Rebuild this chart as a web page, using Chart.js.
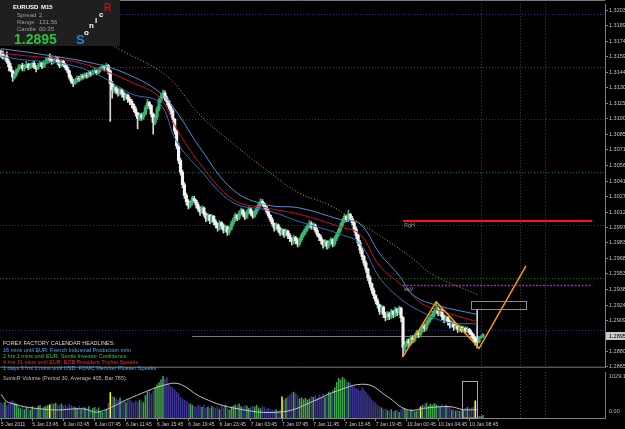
<!DOCTYPE html>
<html><head><meta charset="utf-8">
<script src="https://cdn.jsdelivr.net/npm/chart.js@4/dist/chart.umd.min.js"></script>
<style>
html,body{margin:0;padding:0;background:#000;overflow:hidden;}
#wrap{position:relative;width:625px;height:429px;background:#000;}
#c1{position:absolute;left:0;top:0;}
#c2{position:absolute;left:0;top:372px;}
</style></head><body>
<div id="wrap">
<canvas id="c1" width="625" height="372"></canvas>
<canvas id="c2" width="625" height="57"></canvas>
</div>
<script>
// ---------- DATA (EURUSD M15) ----------
const opens = [
1.3164,1.3162,1.3158,1.3160,1.3155,1.3150,1.3146,1.3140,1.3143,1.3147,
1.3149,1.3151,1.3148,1.3150,1.3152,1.3149,1.3151,1.3153,1.3150,1.3148,
1.3151,1.3153,1.3150,1.3154,1.3155,1.3158,1.3157,1.3155,1.3156,1.3158,
1.3154,1.3151,1.3155,1.3152,1.3149,1.3146,1.3140,1.3136,1.3134,1.3137,
1.3139,1.3138,1.3141,1.3140,1.3142,1.3141,1.3144,1.3143,1.3145,1.3146,
1.3144,1.3147,1.3148,1.3150,1.3149,1.3151,1.3146,1.3134,1.3128,1.3130,
1.3127,1.3125,1.3128,1.3124,1.3121,1.3123,1.3119,1.3117,1.3114,1.3110,
1.3106,1.3101,1.3104,1.3102,1.3105,1.3111,1.3116,1.3113,1.3105,1.3097,
1.3102,1.3110,1.3118,1.3122,1.3125,1.3120,1.3117,1.3112,1.3108,1.3100,
1.3089,1.3075,1.3061,1.3050,1.3038,1.3028,1.3022,1.3018,1.3021,1.3025,
1.3023,1.3019,1.3015,1.3012,1.3016,1.3010,1.3006,1.3009,1.3004,1.3008,
1.3003,1.3000,1.2997,1.3002,1.2999,1.2995,1.2998,1.2993,1.2996,1.3001,
1.3005,1.3009,1.3006,1.3011,1.3014,1.3010,1.3007,1.3012,1.3015,1.3011,
1.3008,1.3012,1.3016,1.3019,1.3022,1.3020,1.3017,1.3013,1.3009,1.3005,
1.3001,1.2997,1.3000,1.2996,1.2992,1.2995,1.2991,1.2994,1.2990,1.2987,
1.2984,1.2988,1.2985,1.2982,1.2986,1.2990,1.2993,1.2996,1.2999,1.3001,
1.2998,1.3000,1.2995,1.2991,1.2988,1.2985,1.2981,1.2984,1.2980,1.2983,
1.2986,1.2982,1.2987,1.2991,1.2995,1.3000,1.3004,1.3008,1.3005,1.3010,
1.3006,1.3002,1.2996,1.2990,1.2983,1.2976,1.2970,1.2964,1.2958,1.2950,
1.2944,1.2938,1.2933,1.2928,1.2924,1.2918,1.2922,1.2915,1.2912,1.2916,
1.2913,1.2918,1.2915,1.2920,1.2917,1.2921,1.2912,1.2884,1.2886,1.2890,
1.2888,1.2893,1.2891,1.2895,1.2898,1.2896,1.2900,1.2904,1.2902,1.2907,
1.2910,1.2913,1.2915,1.2918,1.2920,1.2916,1.2919,1.2913,1.2910,1.2912,
1.2908,1.2905,1.2907,1.2903,1.2904,1.2901,1.2903,1.2900,1.2902,1.2899,
1.2901,1.2898,1.2896,1.2892,1.2893,1.2889,1.2893,1.2894];
const highs = [
1.3166,1.3165,1.3161,1.3164,1.3157,1.3153,1.3147,1.3145,1.3148,1.3152,
1.3152,1.3153,1.3152,1.3155,1.3153,1.3153,1.3154,1.3155,1.3151,1.3153,
1.3155,1.3154,1.3156,1.3158,1.3159,1.3162,1.3159,1.3158,1.3160,1.3159,
1.3156,1.3157,1.3156,1.3153,1.3151,1.3147,1.3142,1.3138,1.3139,1.3141,
1.3141,1.3143,1.3143,1.3144,1.3144,1.3146,1.3146,1.3147,1.3149,1.3147,
1.3149,1.3150,1.3152,1.3151,1.3153,1.3152,1.3147,1.3136,1.3133,1.3131,
1.3129,1.3130,1.3129,1.3126,1.3125,1.3124,1.3121,1.3119,1.3115,1.3112,
1.3107,1.3106,1.3106,1.3107,1.3113,1.3119,1.3117,1.3114,1.3106,1.3104,
1.3112,1.3120,1.3125,1.3128,1.3127,1.3122,1.3118,1.3114,1.3110,1.3101,
1.3090,1.3077,1.3063,1.3052,1.3040,1.3030,1.3024,1.3023,1.3027,1.3027,
1.3024,1.3021,1.3017,1.3018,1.3017,1.3012,1.3011,1.3010,1.3010,1.3009,
1.3005,1.3002,1.3004,1.3003,1.3001,1.3000,1.2999,1.2998,1.3003,1.3007,
1.3011,1.3010,1.3013,1.3016,1.3015,1.3012,1.3014,1.3017,1.3016,1.3013,
1.3014,1.3018,1.3021,1.3025,1.3024,1.3021,1.3018,1.3015,1.3010,1.3007,
1.3002,1.3002,1.3001,1.2998,1.2997,1.2996,1.2996,1.2995,1.2992,1.2988,
1.2990,1.2989,1.2987,1.2988,1.2992,1.2995,1.2998,1.3001,1.3004,1.3003,
1.3002,1.3001,1.2997,1.2992,1.2990,1.2986,1.2986,1.2985,1.2985,1.2988,
1.2987,1.2989,1.2993,1.2997,1.3002,1.3006,1.3010,1.3009,1.3014,1.3011,
1.3008,1.3003,1.2998,1.2991,1.2985,1.2978,1.2971,1.2966,1.2959,1.2952,
1.2945,1.2940,1.2934,1.2930,1.2925,1.2924,1.2923,1.2917,1.2918,1.2917,
1.2920,1.2919,1.2922,1.2921,1.2923,1.2922,1.2913,1.2889,1.2892,1.2892,
1.2895,1.2895,1.2897,1.2900,1.2900,1.2902,1.2906,1.2906,1.2909,1.2912,
1.2915,1.2918,1.2921,1.2926,1.2922,1.2921,1.2920,1.2915,1.2914,1.2913,
1.2910,1.2909,1.2908,1.2906,1.2905,1.2905,1.2904,1.2904,1.2903,1.2903,
1.2902,1.2900,1.2897,1.2894,1.2919,1.2894,1.2895,1.2897];
const lows = [
1.3159,1.3157,1.3156,1.3153,1.3146,1.3145,1.3136,1.3138,1.3141,1.3145,
1.3148,1.3146,1.3146,1.3149,1.3147,1.3148,1.3149,1.3148,1.3145,1.3147,
1.3150,1.3148,1.3149,1.3152,1.3153,1.3154,1.3152,1.3153,1.3155,1.3152,
1.3149,1.3150,1.3150,1.3147,1.3144,1.3138,1.3134,1.3131,1.3133,1.3135,
1.3136,1.3137,1.3138,1.3139,1.3139,1.3140,1.3141,1.3142,1.3143,1.3142,
1.3143,1.3145,1.3147,1.3146,1.3147,1.3143,1.3098,1.3120,1.3125,1.3124,
1.3122,1.3123,1.3121,1.3118,1.3119,1.3116,1.3114,1.3111,1.3107,1.3103,
1.3091,1.3099,1.3099,1.3100,1.3104,1.3110,1.3110,1.3102,1.3086,1.3095,
1.3100,1.3108,1.3116,1.3120,1.3118,1.3114,1.3110,1.3105,1.3097,1.3086,
1.3072,1.3058,1.3047,1.3035,1.3025,1.3019,1.3015,1.3016,1.3019,1.3021,
1.3016,1.3013,1.3009,1.3011,1.3008,1.3003,1.3004,1.3001,1.3002,1.3000,
1.2997,1.2994,1.2995,1.2996,1.2992,1.2993,1.2990,1.2991,1.2995,1.2999,
1.3003,1.3004,1.3005,1.3009,1.3008,1.3005,1.3006,1.3010,1.3009,1.3006,
1.3007,1.3010,1.3014,1.3017,1.3018,1.3015,1.3011,1.3007,1.3003,1.2999,
1.2994,1.2995,1.2993,1.2990,1.2990,1.2988,1.2989,1.2987,1.2984,1.2981,
1.2982,1.2982,1.2979,1.2980,1.2984,1.2988,1.2991,1.2994,1.2997,1.2996,
1.2996,1.2993,1.2989,1.2985,1.2982,1.2978,1.2979,1.2977,1.2978,1.2981,
1.2979,1.2980,1.2985,1.2989,1.2993,1.2998,1.3002,1.3003,1.3003,1.3004,
1.3000,1.2993,1.2987,1.2980,1.2973,1.2967,1.2961,1.2955,1.2947,1.2941,
1.2935,1.2930,1.2925,1.2921,1.2915,1.2916,1.2912,1.2909,1.2910,1.2910,
1.2911,1.2912,1.2913,1.2914,1.2915,1.2908,1.2875,1.2880,1.2884,1.2885,
1.2886,1.2888,1.2889,1.2893,1.2893,1.2894,1.2898,1.2899,1.2900,1.2905,
1.2908,1.2911,1.2913,1.2916,1.2914,1.2914,1.2910,1.2907,1.2908,1.2905,
1.2902,1.2903,1.2900,1.2901,1.2898,1.2899,1.2898,1.2899,1.2897,1.2898,
1.2896,1.2893,1.2889,1.2886,1.2883,1.2888,1.2892,1.2893];
const closes = [
1.3162,1.3158,1.3160,1.3155,1.3150,1.3146,1.3140,1.3143,1.3147,1.3149,
1.3151,1.3148,1.3150,1.3152,1.3149,1.3151,1.3153,1.3150,1.3148,1.3151,
1.3153,1.3150,1.3154,1.3155,1.3158,1.3157,1.3155,1.3156,1.3158,1.3154,
1.3151,1.3155,1.3152,1.3149,1.3146,1.3140,1.3136,1.3134,1.3137,1.3139,
1.3138,1.3141,1.3140,1.3142,1.3141,1.3144,1.3143,1.3145,1.3146,1.3144,
1.3147,1.3148,1.3150,1.3149,1.3151,1.3146,1.3134,1.3128,1.3130,1.3127,
1.3125,1.3128,1.3124,1.3121,1.3123,1.3119,1.3117,1.3114,1.3110,1.3106,
1.3101,1.3104,1.3102,1.3105,1.3111,1.3116,1.3113,1.3105,1.3097,1.3102,
1.3110,1.3118,1.3122,1.3125,1.3120,1.3117,1.3112,1.3108,1.3100,1.3089,
1.3075,1.3061,1.3050,1.3038,1.3028,1.3022,1.3018,1.3021,1.3025,1.3023,
1.3019,1.3015,1.3012,1.3016,1.3010,1.3006,1.3009,1.3004,1.3008,1.3003,
1.3000,1.2997,1.3002,1.2999,1.2995,1.2998,1.2993,1.2996,1.3001,1.3005,
1.3009,1.3006,1.3011,1.3014,1.3010,1.3007,1.3012,1.3015,1.3011,1.3008,
1.3012,1.3016,1.3019,1.3022,1.3020,1.3017,1.3013,1.3009,1.3005,1.3001,
1.2997,1.3000,1.2996,1.2992,1.2995,1.2991,1.2994,1.2990,1.2987,1.2984,
1.2988,1.2985,1.2982,1.2986,1.2990,1.2993,1.2996,1.2999,1.3001,1.2998,
1.3000,1.2995,1.2991,1.2988,1.2985,1.2981,1.2984,1.2980,1.2983,1.2986,
1.2982,1.2987,1.2991,1.2995,1.3000,1.3004,1.3008,1.3005,1.3010,1.3006,
1.3002,1.2996,1.2990,1.2983,1.2976,1.2970,1.2964,1.2958,1.2950,1.2944,
1.2938,1.2933,1.2928,1.2924,1.2918,1.2922,1.2915,1.2912,1.2916,1.2913,
1.2918,1.2915,1.2920,1.2917,1.2921,1.2912,1.2884,1.2886,1.2890,1.2888,
1.2893,1.2891,1.2895,1.2898,1.2896,1.2900,1.2904,1.2902,1.2907,1.2910,
1.2913,1.2915,1.2918,1.2920,1.2916,1.2919,1.2913,1.2910,1.2912,1.2908,
1.2905,1.2907,1.2903,1.2904,1.2901,1.2903,1.2900,1.2902,1.2899,1.2901,
1.2898,1.2896,1.2892,1.2889,1.2889,1.2893,1.2894,1.2896];
const volumes = [
360,340,380,300,320, 380,400,350,330,
250,220,280,200,260,230,190,270,240,210,280,300,230,260,
280,300,310,
340,320,350,300,310,330,280,300,260,320,290,270,
250,230,280,200,260,240,220,270,190,230,250,210,240,
150,140,170,200,
350,590,500,480,
450,420,470,380,400,360,430,410,380,350,400,370,420,390,360,
520,600,650,560,
620,700,760,820,880,960,900,940,
780,720,700,650,600,560,
480,440,420,390,350,330,300,280,260,300,
280,250,300,240,260,230,270,250,220,
260,200,280,240,300,220,190,260,280,310,290,330,270,250,300,280,230,260,
280,260,300,240,220,270,250,210,230,200,
190,180,200,170,190,
490,
420,460,500,540,580,600,560,520,
450,470,430,460,420,440,
500,480,520,460,540,500,560,480,520,600,560,640,
700,820,920,880,940,900,860,820,
800,760,720,680,650,620,
700,650,600,540,480,420,380,350,
300,260,240,200,220,180,160,200,150,170,190,140,
200,260,220,180,160,200,180,150,170,190,
265,
300,330,350,280,320,300,340,310,290,260,320,280,300,270,250,
190,200,170,180,160,190,200,
230,250,220,240,260,400,380,
40,50,70];
const climaxBars = [25,56,144,215,243];
const volAvgBars   = [0,4,25,42,50,67,85,92,102,119,144,162,170,187,198,208,218,230,237,244];
const volAvgValues = [540,350,190,210,140,470,770,770,490,230,140,420,585,770,490,190,230,260,190,190];
const volMaxLabel = '1029.1', volMinLabel = '0.00';

// Dragon (EMA34 high / close / low) and Trend (EMA89)
const dragonHighBars = [0,16,50,67,81,90,102,119,136,153,174,184,194,204,211,221,244];
const dragonHighVals = [1.3167,1.3163,1.3152,1.3141,1.3126,1.3107,1.3073,1.3033,1.3019,1.3016,1.3005,1.3001,1.2973,1.2952,1.2934,1.2925,1.2915];
const dragonMidBars  = [0,9,34,50,67,81,90,102,119,136,153,174,184,194,206,216,228,244];
const dragonMidVals  = [1.3163,1.3161,1.3156,1.3148,1.3135,1.3121,1.3091,1.3058,1.3024,1.3016,1.3010,1.2998,1.2991,1.2961,1.2942,1.2925,1.2917,1.2908];
const dragonLowBars  = [0,9,34,50,67,81,90,102,119,136,153,174,184,194,204,214,228,244];
const dragonLowVals  = [1.3160,1.3157,1.3152,1.3142,1.3124,1.3116,1.3079,1.3052,1.3021,1.3014,1.3003,1.2991,1.2982,1.2950,1.2931,1.2919,1.2908,1.2906];
const trendBars = [55,62,85,102,119,136,153,168,184,194,211,221,244];
const trendVals = [1.3172,1.3165,1.3141,1.3104,1.3077,1.3052,1.3030,1.3019,1.3001,1.2990,1.2968,1.2953,1.2934];

const zigzagBars = [206,223,245,269];
const zigzagPrices = [1.2875,1.2927,1.2883,1.2961];
const projBoxBars = [241,269], projBoxPrices = [1.2920,1.2928];
const volBoxBars = [236,244], volBoxTop = 842;
const majorLevels = [1.3200,1.3100,1.3000,1.2900];
const halfLevels = [1.3150,1.3050,1.2950];
const rghLevel = 1.3004, ssvLevel = 1.2943, levelBars = [206,303];
const bidPrice = 1.2895, bidLineFromBar = 98, bidLineToBar = 245;
const eventBars = [246,266,279];
const priceTicks = [1.32035,1.31890,1.31740,1.31595,1.31445,1.31300,1.31150,1.31005,1.30855,1.30710,1.30565,1.30415,1.30270,1.30120,1.29975,1.29830,1.29680,1.29535,1.29385,1.29240,1.29095,1.28950,1.28800,1.28655];
const timeLabels = ["5 Jan 2011","5 Jan 23:45","6 Jan 03:45","6 Jan 07:45","6 Jan 11:45","6 Jan 15:45","6 Jan 19:45","6 Jan 23:45","7 Jan 03:45","7 Jan 07:45","7 Jan 11:45","7 Jan 15:45","7 Jan 19:45","10 Jan 00:45","10 Jan 04:45","10 Jan 08:45"];
const newsLines = ["16 mins until EUR: French Industrial Production m/m","2 hrs 1 mins until EUR: Sentix Investor Confidence","4 hrs 31 mins until EUR: ECB President Trichet Speaks","1 days 6 hrs 1 mins until USD: FOMC Member Plosser Speaks"];
const SLOTS = 310;
const categories = Array.from({length: SLOTS}, (_, i) => i);

// ---------- STYLE ----------
const FONT = 'Liberation Sans';
const BULL = '#3cb371', BEAR = '#f4f4f4';
const isUp = i => closes[i] > opens[i];
const pts = (bars, vals) => bars.map((b, k) => ({x: b, y: vals[k]}));

const mainDecor = {
  id: 'mainDecor',
  beforeDatasetsDraw(chart) {
    const {ctx, chartArea: a, scales: {x, y}} = chart;
    ctx.save();
    ctx.lineWidth = 1;
    ctx.setLineDash([1, 2]);
    const hl = (p, col) => { const py = Math.round(y.getPixelForValue(p)) + 0.5; ctx.strokeStyle = col; ctx.beginPath(); ctx.moveTo(a.left, py); ctx.lineTo(a.right, py); ctx.stroke(); };
    majorLevels.forEach(p => hl(p, '#2a2a9a'));
    halfLevels.forEach(p => hl(p, '#0b700b'));
    ctx.strokeStyle = '#4a4a4a';
    eventBars.forEach(b => { const px = Math.round(x.getPixelForValue(b)) + 0.5; ctx.beginPath(); ctx.moveTo(px, a.top); ctx.lineTo(px, a.bottom); ctx.stroke(); });
    ctx.setLineDash([]);
    ctx.strokeStyle = '#7a7a7a';
    const by = Math.round(y.getPixelForValue(bidPrice)) + 0.5;
    ctx.beginPath(); ctx.moveTo(x.getPixelForValue(bidLineFromBar), by); ctx.lineTo(x.getPixelForValue(bidLineToBar), by); ctx.stroke();
    ctx.restore();
  },
  afterDatasetsDraw(chart) {
    const {ctx, scales: {x, y}} = chart;
    ctx.save();
    const x0 = x.getPixelForValue(levelBars[0]), x1 = x.getPixelForValue(levelBars[1]);
    let py = Math.round(y.getPixelForValue(rghLevel));
    ctx.strokeStyle = '#ff1010'; ctx.lineWidth = 2;
    ctx.beginPath(); ctx.moveTo(x0, py); ctx.lineTo(x1, py); ctx.stroke();
    ctx.font = '5.5px "' + FONT + '"'; ctx.fillStyle = '#9a9a9a'; ctx.textBaseline = 'middle';
    ctx.fillText('RgH', x0 + 1, py + 4.5);
    py = Math.round(y.getPixelForValue(ssvLevel)) + 0.5;
    ctx.strokeStyle = '#b020c0'; ctx.lineWidth = 1.5; ctx.setLineDash([2, 1.5]);
    ctx.beginPath(); ctx.moveTo(x0, py); ctx.lineTo(x1, py); ctx.stroke();
    ctx.setLineDash([]);
    ctx.fillText('ssV', x0 + 1, py + 4);
    const bx0 = Math.round(x.getPixelForValue(projBoxBars[0])) + 0.5, bx1 = Math.round(x.getPixelForValue(projBoxBars[1])) + 0.5;
    const by0 = Math.round(y.getPixelForValue(projBoxPrices[1])) + 0.5, by1 = Math.round(y.getPixelForValue(projBoxPrices[0])) + 0.5;
    ctx.strokeStyle = '#8c8c8c'; ctx.lineWidth = 1; ctx.strokeRect(bx0, by0, bx1 - bx0, by1 - by0);
    ctx.restore();
  },
  afterDraw(chart) {
    const {ctx, chartArea: a, scales: {y}} = chart;
    ctx.save();
    ctx.strokeStyle = '#7a7a7a'; ctx.lineWidth = 1;
    ctx.beginPath(); ctx.moveTo(0, 0.5); ctx.lineTo(a.right, 0.5); ctx.moveTo(0, a.bottom - 0.5); ctx.lineTo(a.right, a.bottom - 0.5); ctx.stroke();
    // info panel
    ctx.fillStyle = '#1f1f1f'; ctx.fillRect(0, 0, 120, 46);
    ctx.textBaseline = 'alphabetic';
    ctx.fillStyle = '#ffffff'; ctx.font = 'bold 6px "' + FONT + '"';
    ctx.fillText('EURUSD', 13, 9); ctx.fillText('M15', 41, 9);
    ctx.fillStyle = '#9c9c9c'; ctx.font = '6px "' + FONT + '"';
    ctx.fillText('Spread', 17, 17); ctx.fillText('2', 39, 17);
    ctx.fillText('Range', 17, 24); ctx.fillText('131.56', 39, 24);
    ctx.fillText('Candle', 17, 31); ctx.fillText('00:35', 39, 31);
    ctx.fillStyle = '#2fbf3a'; ctx.font = 'bold 14px "' + FONT + '"';
    ctx.fillText('1.2895', 14, 44);
    ctx.fillStyle = '#1c86e6'; ctx.font = 'bold 13px "' + FONT + '"';
    ctx.fillText('S', 76, 44);
    ctx.fillStyle = '#ffffff'; ctx.font = 'bold 8px "' + FONT + '"';
    ctx.fillText('o', 84, 35); ctx.fillText('n', 89, 28); ctx.fillText('i', 95, 23); ctx.fillText('c', 99, 17);
    ctx.fillStyle = '#e00000'; ctx.font = 'bold 10px "' + FONT + '"';
    ctx.fillText('R', 104, 11);
    // news
    ctx.font = '5.5px "' + FONT + '"';
    ctx.fillStyle = '#d8d8d8'; ctx.fillText('FOREX FACTORY CALENDAR HEADLINES:', 3, 345);
    const cols = ['#4da3ff', '#33cc33', '#ff2b2b', '#4da3ff'];
    newsLines.forEach((t, k) => { ctx.fillStyle = cols[k]; ctx.fillText(t, 3, 352 + k * 6); });
    // current price box
    const py = Math.round(y.getPixelForValue(bidPrice));
    ctx.fillStyle = '#c8c8c8'; ctx.fillRect(606, py - 4, 19, 8);
    ctx.fillStyle = '#000'; ctx.textBaseline = 'middle'; ctx.font = '5.5px "' + FONT + '"';
    ctx.fillText(bidPrice.toFixed(5), 609, py + 0.5);
    ctx.restore();
  }
};

new Chart(document.getElementById('c1'), {
  data: {
    labels: categories,
    datasets: [
      {type: 'line', data: pts(zigzagBars, zigzagPrices), borderColor: '#ff9a00', borderWidth: 1.5, pointRadius: 0, tension: 0, order: 0},
      {type: 'line', data: pts(trendBars, trendVals), borderColor: '#b8b800', borderWidth: 1, borderDash: [1, 2], pointRadius: 0, tension: 0.4, order: 1},
      {type: 'line', data: pts(dragonHighBars, dragonHighVals), borderColor: '#4f8fd6', borderWidth: 1, pointRadius: 0, tension: 0.4, order: 1},
      {type: 'line', data: pts(dragonMidBars, dragonMidVals), borderColor: '#c8102e', borderWidth: 1, pointRadius: 0, tension: 0.4, order: 1},
      {type: 'line', data: pts(dragonLowBars, dragonLowVals), borderColor: '#2f6fae', borderWidth: 1, pointRadius: 0, tension: 0.4, order: 1},
      {type: 'bar', data: closes.map((c, i) => [opens[i], c]), backgroundColor: ctx => isUp(ctx.dataIndex) ? BULL : BEAR, barThickness: 2.5, minBarLength: 1, grouped: false, order: 5},
      {type: 'bar', data: closes.map((c, i) => [lows[i], highs[i]]), backgroundColor: ctx => isUp(ctx.dataIndex) ? BULL : '#d6d6d6', barThickness: 1, grouped: false, order: 6}
    ]
  },
  options: {
    responsive: false, animation: false, devicePixelRatio: 1,
    layout: {padding: 0},
    plugins: {legend: {display: false}, tooltip: {enabled: false}},
    scales: {
      x: {type: 'category', display: false, offset: true},
      y: {position: 'right', min: 1.286458, max: 1.320906,
        afterFit: s => { s.width = 20; },
        afterBuildTicks: s => { s.ticks = priceTicks.map(v => ({value: v})); },
        ticks: {autoSkip: false, padding: 1, color: '#c4c4c4', font: {family: FONT, size: 5.5}, callback: v => v.toFixed(5)},
        grid: {drawOnChartArea: false, tickLength: 3, color: '#808080'},
        border: {display: true, color: '#808080'}}
    }
  },
  plugins: [mainDecor]
});

const volDecor = {
  id: 'volDecor',
  beforeDatasetsDraw(chart) {
    const {ctx, chartArea: a, scales: {x}} = chart;
    ctx.save(); ctx.strokeStyle = '#4a4a4a'; ctx.setLineDash([1, 2]);
    eventBars.forEach(b => { const px = Math.round(x.getPixelForValue(b)) + 0.5; ctx.beginPath(); ctx.moveTo(px, a.top); ctx.lineTo(px, a.bottom); ctx.stroke(); });
    ctx.restore();
  },
  afterDraw(chart) {
    const {ctx, chartArea: a, scales: {x, y}} = chart;
    ctx.save();
    ctx.font = '5.5px "' + FONT + '"'; ctx.textBaseline = 'middle';
    ctx.fillStyle = '#bdbdbd'; ctx.fillText('SonicR Volume (Period 30, Average 405, Bar 785)', 3, 6);
    ctx.fillText(volMaxLabel, 609, 4); ctx.fillText(volMinLabel, 609, 39);
    const bx0 = Math.round(x.getPixelForValue(volBoxBars[0])) + 0.5, bx1 = Math.round(x.getPixelForValue(volBoxBars[1])) + 0.5;
    const byt = Math.round(y.getPixelForValue(volBoxTop)) + 0.5;
    ctx.strokeStyle = '#a8a8a8'; ctx.strokeRect(bx0, byt, bx1 - bx0, a.bottom - byt);
    ctx.restore();
  }
};

new Chart(document.getElementById('c2'), {
  data: {
    labels: categories,
    datasets: [
      {type: 'line', data: pts(volAvgBars, volAvgValues), borderColor: '#c2c2c2', borderWidth: 1, pointRadius: 0, tension: 0.4, order: 0},
      {type: 'bar', data: volumes, backgroundColor: ctx => climaxBars.includes(ctx.dataIndex) ? '#ffff00' : (isUp(ctx.dataIndex) ? '#3fa34a' : '#3b348f'), barPercentage: 0.8, categoryPercentage: 1, order: 1}
    ]
  },
  options: {
    responsive: false, animation: false, devicePixelRatio: 1,
    layout: {padding: 0},
    plugins: {legend: {display: false}, tooltip: {enabled: false}},
    scales: {
      x: {type: 'category', offset: true,
        afterFit: s => { s.height = 11; },
        afterBuildTicks: s => { s.ticks = s.ticks.filter(t => t.value % 16 === 0 && t.value / 16 < timeLabels.length); },
        ticks: {autoSkip: false, maxRotation: 0, minRotation: 0, align: 'start', padding: 1, color: '#c4c4c4', font: {family: FONT, size: 5}, callback: v => timeLabels[v / 16]},
        grid: {drawOnChartArea: false, tickLength: 3, color: '#808080', offset: false},
        border: {display: true, color: '#808080'}},
      y: {position: 'right', min: 0, max: 1052,
        afterFit: s => { s.width = 20; },
        ticks: {display: false}, grid: {display: false},
        border: {display: true, color: '#808080'}}
    }
  },
  plugins: [volDecor]
});
</script>
</body></html>
